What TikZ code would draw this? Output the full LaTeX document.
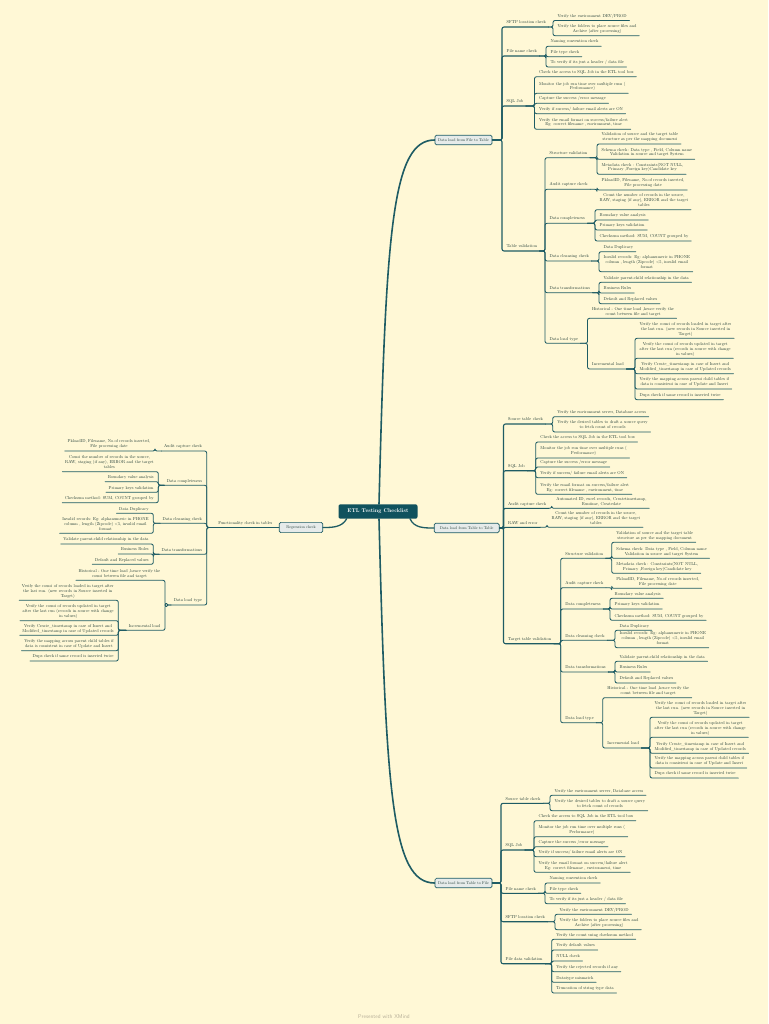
\documentclass[tikz,border=0pt]{standalone}
\usepackage{fontspec}
\setmainfont{lmroman10-regular}[Extension=.otf, BoldFont=lmroman10-bold]
\setsansfont{lmsans10-regular}[Extension=.otf]
\usepackage{tikz}

\definecolor{paper}{RGB}{255,248,214}
\definecolor{lnk}{RGB}{30,92,100}
\definecolor{rootfill}{RGB}{16,82,94}
\definecolor{boxfill}{RGB}{230,235,234}
\definecolor{ink}{RGB}{28,56,50}
\definecolor{credit}{RGB}{180,172,150}

\newcommand{\linkR}[2]{\foreach \kid in {#2}{\draw[link] (#1.south east) -| ([xshift=-2pt]\kid.south west) -- (\kid.south east);}}
\newcommand{\linkL}[2]{\foreach \kid in {#2}{\draw[link] (#1.south west) -| ([xshift=2pt]\kid.south east) -- (\kid.south west);}}

\begin{document}
\begin{tikzpicture}[x=1pt,y=-1pt,line cap=round,line join=round,
  leaf/.style={font=\fontsize{4.3}{4.9}\selectfont, text=ink, align=center, inner xsep=2.5pt, inner ysep=2pt, text depth=1.1pt},
  topicR/.style={leaf, anchor=south west},
  topicL/.style={leaf, anchor=south east},
  root/.style={fill=rootfill, rounded corners=2pt, text=white, font=\fontsize{5.4}{6.5}\selectfont\bfseries, minimum width=79pt, minimum height=14.4pt},
  branch/.style={draw=lnk, line width=0.7pt, fill=boxfill, rounded corners=1.5pt, font=\fontsize{4}{5}\selectfont, text=ink, minimum height=9.5pt, inner xsep=2pt},
  trunk/.style={draw=lnk, line width=1.6pt},
  spine/.style={draw=lnk, line width=1.1pt, rounded corners=2pt},
  link/.style={draw=lnk, line width=0.85pt, rounded corners=2pt}]

\fill[paper] (0,0) rectangle (768,1024);
\useasboundingbox (0,0) rectangle (768,1024);

% centre and main branches
\node[root] (root) at (378,511.5) {ETL Testing Checklist};
\node[branch, minimum width=57pt] (ft) at (463.5,140) {Data load from File to Table};
\node[branch, minimum width=65pt] (tt) at (466.7,528) {Data load from Table to Table};
\node[branch, minimum width=57pt] (tf) at (463.5,883) {Data load from Table to File};
\node[branch, minimum width=43.5pt] (reg) at (301,527.5) {Regression check};

\draw[trunk] ([xshift=1pt]root.north) .. controls (386,230) and (392,140) .. (ft.west);
\draw[trunk] ([xshift=1pt]root.south) .. controls (386,795) and (392,883) .. (tf.west);
\draw[trunk, line width=1.3pt] (410,518.7) .. controls (414,528) and (424,528) .. (tt.west);
\draw[trunk, line width=1.3pt] (346.7,518.7) .. controls (342,527.5) and (332,527.5) .. (reg.east);

% Data load from File to Table
\node[topicR] (ft1) at (504,27) {SFTP location check};
\node[topicR] (ft2) at (504,56) {File name check};
\node[topicR] (ft3) at (504,106) {SQL Job};
\node[topicR] (ft4) at (504,251) {Table validation};

\node[topicR] (ft11) at (555,20.5) {Verify the environment DEV/PROD};
\node[topicR] (ft12) at (555,35.7) {Verify the folders to place source files and\\Archive (after processing)};
\node[topicR] (ft21) at (548,46.3) {Naming convention check};
\node[topicR] (ft22) at (548,56.7) {File type check};
\node[topicR] (ft23) at (548,67) {To verify if its just a header / data file};
\node[topicR] (ft31) at (536.5,76.7) {Check the access to SQL Job in the ETL tool box};
\node[topicR] (ft32) at (536.5,93.3) {Monitor the job run time over multiple runs (\\Performance)};
\node[topicR] (ft33) at (536.5,103.3) {Capture the success /error message};
\node[topicR] (ft34) at (536.5,113.7) {Verify if success/ failure email alerts are ON};
\node[topicR] (ft35) at (536.5,129.3) {Verify the email format on success/failure alert\\Eg: correct filename , environment, time};

\node[topicR] (ft41) at (547,157.7) {Structure validation};
\node[topicR] (ft42) at (547,189.3) {Audit capture check};
\node[topicR] (ft43) at (547,223.3) {Data completeness};
\node[topicR] (ft44) at (547,261) {Data cleansing check};
\node[topicR] (ft45) at (547,292.7) {Data transformations};
\node[topicR] (ft46) at (547,343.3) {Data load type};

\node[topicR] (ft411) at (599,144) {Validation of source and the target table\\structure as per the mapping document};
\node[topicR] (ft412) at (599,159.3) {Schema check: Data type , Field, Column name\\Validation in source and target System};
\node[topicR] (ft413) at (599,174.3) {Metadata check : Constraints(NOT NULL,\\Primary ,Foreign key)Candidate key};
\node[topicR] (ft421) at (599,190) {PkloadID, Filename, No.of records inserted,\\File processing date};
\node[topicR] (ft431) at (597,209.7) {Count the number of records in the source,\\RAW, staging (if any), ERROR and the target\\tables};
\node[topicR] (ft432) at (597,220) {Boundary value analysis};
\node[topicR] (ft433) at (597,230) {Primary keys validation};
\node[topicR] (ft434) at (597,241) {Checksum method: SUM, COUNT grouped by};
\node[topicR] (ft441) at (601,251.7) {Data Duplicacy};
\node[topicR] (ft442) at (601,271.7) {Invalid records: Eg: alphanumeric in PHONE\\column , length (Zipcode) <5, invalid email\\format};
\node[topicR] (ft451) at (601,282.3) {Validate parent-child relationship in the data};
\node[topicR] (ft452) at (601,293) {Business Rules};
\node[topicR] (ft453) at (601,303.7) {Default and Replaced values};
\node[topicR] (ft461) at (589.5,318.3) {Historical - One time load ,hence verify the\\count between file and target};
\node[topicR] (ft462) at (589.5,369) {Incremental load};
\node[topicR] (ft4621) at (637,338.3) {Verify the count of records loaded in target after\\the last run. (new records in Source inserted in\\Target)};
\node[topicR] (ft4622) at (637,358.3) {Verify the count of records updated in target\\after the last run (records in source with change\\in values)};
\node[topicR] (ft4623) at (637,373.7) {Verify Create\_timestamp in case of Insert and\\Modified\_timestamp in case of Updated records};
\node[topicR] (ft4624) at (637,389) {Verify the mapping across parent child tables if\\data is consistent in case of Update and Insert};
\node[topicR] (ft4625) at (637,399.7) {Dups check if same record is inserted twice};

\foreach \kid in {ft1,ft2,ft3,ft4} \draw[spine] (ft.east) -| ([xshift=-2pt]\kid.south west) -- (\kid.south east);
\linkR{ft1}{ft11,ft12}
\linkR{ft2}{ft21,ft22,ft23}
\linkR{ft3}{ft31,ft32,ft33,ft34,ft35}
\linkR{ft4}{ft41,ft42,ft43,ft44,ft45,ft46}
\linkR{ft41}{ft411,ft412,ft413}
\linkR{ft42}{ft421}
\linkR{ft43}{ft431,ft432,ft433,ft434}
\linkR{ft44}{ft441,ft442}
\linkR{ft45}{ft451,ft452,ft453}
\linkR{ft46}{ft461,ft462}
\linkR{ft462}{ft4621,ft4622,ft4623,ft4624,ft4625}

% Data load from Table to Table
\node[topicR] (tt1) at (505.5,424) {Source table check};
\node[topicR] (tt2) at (505.5,470.7) {SQL Job};
\node[topicR] (tt3) at (505.5,508.3) {Audit capture check};
\node[topicR] (tt4) at (505.5,527.3) {RAW and error};
\node[topicR] (tt5) at (505.5,643.7) {Target table validation};

\node[topicR] (tt11) at (554.7,416.7) {Verify the environment server, Database access};
\node[topicR] (tt12) at (554.7,432) {Verify the desired tables to draft a source query\\to fetch count of records};
\node[topicR] (tt21) at (537.7,442) {Check the access to SQL Job in the ETL tool box};
\node[topicR] (tt22) at (537.7,458) {Monitor the job run time over multiple runs (\\Performance)};
\node[topicR] (tt23) at (537.7,467) {Capture the success /error message};
\node[topicR] (tt24) at (537.7,477.7) {Verify if success/ failure email alerts are ON};
\node[topicR] (tt25) at (537.7,494.3) {Verify the email format on success/failure alert\\Eg: correct filename , environment, time};
\node[topicR] (tt31) at (553.7,508.3) {Automated ID, excel records, Createtimestamp,\\Runtime, Createdate};
\node[topicR] (tt41) at (549,527.3) {Count the number of records in the source,\\RAW, staging (if any), ERROR and the target\\tables};

\node[topicR] (tt51) at (562.7,558.3) {Structure validation};
\node[topicR] (tt52) at (562.7,587.7) {Audit capture check};
\node[topicR] (tt53) at (562.7,609) {Data completeness};
\node[topicR] (tt54) at (562.7,640.3) {Data cleansing check};
\node[topicR] (tt55) at (562.7,672) {Data transformations};
\node[topicR] (tt56) at (562.7,722.7) {Data load type};

\node[topicR] (tt511) at (613.7,542.3) {Validation of source and the target table\\structure as per the mapping document};
\node[topicR] (tt512) at (613.7,558.3) {Schema check: Data type , Field, Column name\\Validation in source and target System};
\node[topicR] (tt513) at (613.7,573.3) {Metadata check : Constraints(NOT NULL,\\Primary ,Foreign key)Candidate key};
\node[topicR] (tt521) at (613.7,588.3) {PkloadID, Filename, No.of records inserted,\\File processing date};
\node[topicR] (tt531) at (612,598.3) {Boundary value analysis};
\node[topicR] (tt532) at (612,609) {Primary keys validation};
\node[topicR] (tt533) at (612,620.3) {Checksum method: SUM, COUNT grouped by};
\node[topicR] (tt541) at (617,630.3) {Data Duplicacy};
\node[topicR] (tt542) at (617,647.7) {Invalid records: Eg: alphanumeric in PHONE\\column , length (Zipcode) <5, invalid email\\format};
\node[topicR] (tt551) at (617,661.3) {Validate parent-child relationship in the data};
\node[topicR] (tt552) at (617,672) {Business Rules};
\node[topicR] (tt553) at (617,683) {Default and Replaced values};
\node[topicR] (tt561) at (604.7,697.7) {Historical - One time load ,hence verify the\\count between file and target};
\node[topicR] (tt562) at (604.7,748) {Incremental load};
\node[topicR] (tt5621) at (652,717.3) {Verify the count of records loaded in target after\\the last run. (new records in Source inserted in\\Target)};
\node[topicR] (tt5622) at (652,737.3) {Verify the count of records updated in target\\after the last run (records in source with change\\in values)};
\node[topicR] (tt5623) at (652,753.3) {Verify Create\_timestamp in case of Insert and\\Modified\_timestamp in case of Updated records};
\node[topicR] (tt5624) at (652,768) {Verify the mapping across parent child tables if\\data is consistent in case of Update and Insert};
\node[topicR] (tt5625) at (652,778) {Dups check if same record is inserted twice};

\foreach \kid in {tt1,tt2,tt3,tt4,tt5} \draw[spine] (tt.east) -| ([xshift=-2pt]\kid.south west) -- (\kid.south east);
\linkR{tt1}{tt11,tt12}
\linkR{tt2}{tt21,tt22,tt23,tt24,tt25}
\linkR{tt3}{tt31}
\linkR{tt4}{tt41}
\linkR{tt5}{tt51,tt52,tt53,tt54,tt55,tt56}
\linkR{tt51}{tt511,tt512,tt513}
\linkR{tt52}{tt521}
\linkR{tt53}{tt531,tt532,tt533}
\linkR{tt54}{tt541,tt542}
\linkR{tt55}{tt551,tt552,tt553}
\linkR{tt56}{tt561,tt562}
\linkR{tt562}{tt5621,tt5622,tt5623,tt5624,tt5625}

% Data load from Table to File
\node[topicR] (tf1) at (503,803.3) {Source table check};
\node[topicR] (tf2) at (503,850) {SQL Job};
\node[topicR] (tf3) at (503,893.3) {File name check};
\node[topicR] (tf4) at (503,921.7) {SFTP location check};
\node[topicR] (tf5) at (503,963.7) {File data validation};

\node[topicR] (tf11) at (552,795.3) {Verify the environment server, Database access};
\node[topicR] (tf12) at (552,810.7) {Verify the desired tables to draft a source query\\to fetch count of records};
\node[topicR] (tf21) at (536,820.7) {Check the access to SQL Job in the ETL tool box};
\node[topicR] (tf22) at (536,836.7) {Monitor the job run time over multiple runs (\\Performance)};
\node[topicR] (tf23) at (536,846.7) {Capture the success /error message};
\node[topicR] (tf24) at (536,856.7) {Verify if success/ failure email alerts are ON};
\node[topicR] (tf25) at (536,872.3) {Verify the email format on success/failure alert\\Eg: correct filename , environment, time};
\node[topicR] (tf31) at (547,883) {Naming convention check};
\node[topicR] (tf32) at (547,893.3) {File type check};
\node[topicR] (tf33) at (547,903.7) {To verify if its just a header / data file};
\node[topicR] (tf41) at (557,914.3) {Verify the environment DEV/PROD};
\node[topicR] (tf42) at (557,929.7) {Verify the folders to place source files and\\Archive (after processing)};
\node[topicR] (tf51) at (553.7,939.3) {Verify the count using checksum method};
\node[topicR] (tf52) at (553.7,950) {Verify default values};
\node[topicR] (tf53) at (553.7,961) {NULL check};
\node[topicR] (tf54) at (553.7,971.7) {Verify the rejected records if any};
\node[topicR] (tf55) at (553.7,982.3) {Datatype mismatch};
\node[topicR] (tf56) at (553.7,993) {Truncation of string type data};

\foreach \kid in {tf1,tf2,tf3,tf4,tf5} \draw[spine] (tf.east) -| ([xshift=-2pt]\kid.south west) -- (\kid.south east);
\linkR{tf1}{tf11,tf12}
\linkR{tf2}{tf21,tf22,tf23,tf24,tf25}
\linkR{tf3}{tf31,tf32,tf33}
\linkR{tf4}{tf41,tf42}
\linkR{tf5}{tf51,tf52,tf53,tf54,tf55,tf56}

% Regression check
\node[topicL] (reg1) at (275,527.5) {Functionality check in tables};
\node[topicL] (r1) at (204.7,451) {Audit capture check};
\node[topicL] (r2) at (204.7,485.3) {Data completeness};
\node[topicL] (r3) at (204.7,523.3) {Data cleansing check};
\node[topicL] (r4) at (204.7,554.3) {Data transformations};
\node[topicL] (r5) at (204.7,605) {Data load type};

\node[topicL] (r11) at (153,451) {PkloadID, Filename, No.of records inserted,\\File processing date};
\node[topicL] (r21) at (156.3,471.7) {Count the number of records in the source,\\RAW, staging (if any), ERROR and the target\\tables};
\node[topicL] (r22) at (156.3,481.7) {Boundary value analysis};
\node[topicL] (r23) at (156.3,492.3) {Primary keys validation};
\node[topicL] (r24) at (156.3,502.7) {Checksum method: SUM, COUNT grouped by};
\node[topicL] (r31) at (151.3,513.3) {Data Duplicacy};
\node[topicL] (r32) at (151.3,533.3) {Invalid records: Eg: alphanumeric in PHONE\\column , length (Zipcode) <5, invalid email\\format};
\node[topicL] (r41) at (151.3,544) {Validate parent-child relationship in the data};
\node[topicL] (r42) at (151.3,554) {Business Rules};
\node[topicL] (r43) at (151.3,564.3) {Default and Replaced values};
\node[topicL] (r51) at (163,580.3) {Historical - One time load ,hence verify the\\count between file and target};
\node[topicL] (r52) at (163,630.3) {Incremental load};
\node[topicL] (r521) at (116.3,600.3) {Verify the count of records loaded in target after\\the last run. (new records in Source inserted in\\Target)};
\node[topicL] (r522) at (116.3,620.7) {Verify the count of records updated in target\\after the last run (records in source with change\\in values)};
\node[topicL] (r523) at (116.3,635.3) {Verify Create\_timestamp in case of Insert and\\Modified\_timestamp in case of Updated records};
\node[topicL] (r524) at (116.3,650.7) {Verify the mapping across parent child tables if\\data is consistent in case of Update and Insert};
\node[topicL] (r525) at (116.3,661) {Dups check if same record is inserted twice};

\draw[spine] (reg.west) -- (reg1.south east) -- (reg1.south west);
\linkL{reg1}{r1,r2,r3,r4,r5}
\linkL{r1}{r11}
\linkL{r2}{r21,r22,r23,r24}
\linkL{r3}{r31,r32}
\linkL{r4}{r41,r42,r43}
\linkL{r5}{r51,r52}
\linkL{r52}{r521,r522,r523,r524,r525}
\draw[link, fill=paper] ([xshift=-4.7pt]r5.south west) circle (1.6);

\node[font=\sffamily\fontsize{5.5}{6.5}\selectfont, text=credit] (credit) at (384,1016.5) {Presented with XMind};
\end{tikzpicture}
\end{document}
